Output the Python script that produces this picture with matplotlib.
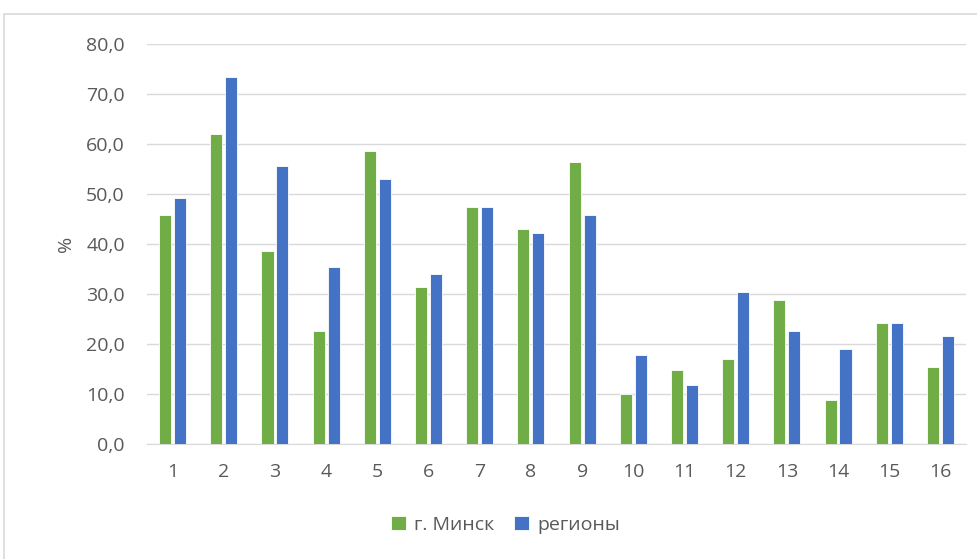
import numpy as np
import matplotlib.pyplot as plt
from matplotlib.patches import Rectangle

categories = [str(i) for i in range(1, 17)]
minsk = [45.8, 62.0, 38.6, 22.6, 58.6, 31.4, 47.4, 43.1,
         56.5, 10.0, 14.8, 17.1, 28.8, 8.9, 24.3, 15.5]
regions = [49.3, 73.5, 55.6, 35.5, 53.0, 34.1, 47.4, 42.3,
           45.8, 17.9, 11.9, 30.4, 22.7, 19.0, 24.3, 21.7]

plt.rcParams['font.family'] = ['Open Sans', 'DejaVu Sans']
text_color = '#595959'
fs = 14

fig = plt.figure(figsize=(9.77, 5.59), dpi=100)
ax = fig.add_axes([147 / 977, 1 - 444 / 559, 819 / 977, 400 / 559])

x = np.arange(len(categories))
w = 0.235
off = 0.146
ax.bar(x - off, minsk, w, color='#70AD47', edgecolor='white', linewidth=0.6,
       label='г. Минск', zorder=3)
ax.bar(x + off, regions, w, color='#4472C4', edgecolor='white', linewidth=0.6,
       label='регионы', zorder=3)

ax.set_xlim(-0.5, len(categories) - 0.5)
ax.set_ylim(0, 80)
ax.set_yticks(np.arange(0, 81, 10))
ax.set_yticklabels([f'{v:.1f}'.replace('.', ',') for v in np.arange(0, 81, 10)])
ax.set_xticks(x)
ax.set_xticklabels(categories)
ax.tick_params(length=0, labelsize=fs, colors=text_color)
ax.tick_params(axis='y', pad=16)
ax.tick_params(axis='x', pad=14)
ax.grid(axis='y', color='#D9D9D9', linewidth=1, zorder=0)
for s in ['top', 'right', 'left']:
    ax.spines[s].set_visible(False)
ax.spines['bottom'].set_color('#D9D9D9')
ax.set_ylabel('%', fontsize=fs, color=text_color, labelpad=8)

ax.legend(loc='upper center', bbox_to_anchor=(0.438, -0.135), ncol=2, frameon=False,
          fontsize=fs, labelcolor=text_color, handlelength=0.75, handleheight=0.75,
          handletextpad=0.45, columnspacing=1.0)

# outer chart frame
fig.patches.append(Rectangle((4 / 977, -0.1), 1.2, 1.1 - 14 / 559,
                             transform=fig.transFigure, fill=False,
                             edgecolor='#D9D9D9', linewidth=1.2))

fig.savefig('out.png', dpi=100)
